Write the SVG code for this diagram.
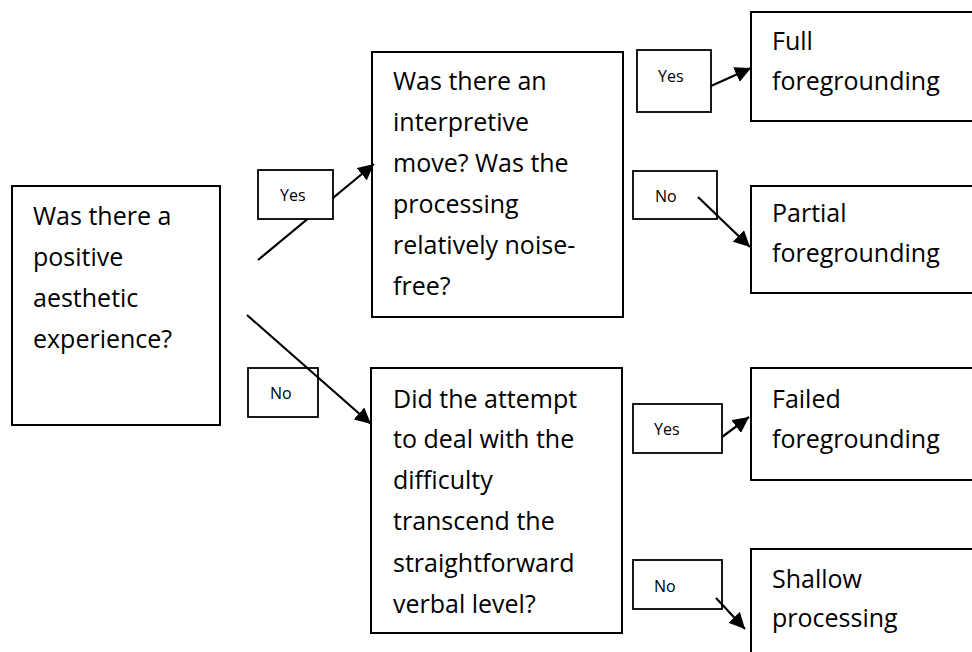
<svg xmlns="http://www.w3.org/2000/svg" width="972" height="652" viewBox="0 0 972 652">
  <defs>
    <marker id="arrow" markerUnits="userSpaceOnUse" markerWidth="18" markerHeight="16" refX="16" refY="8" orient="auto">
      <path d="M0,0 L16,8 L0,16 Z" fill="#000"/>
    </marker>
    <style>
      .box { fill: #fff; stroke: #000; stroke-width: 2; }
      .tag { fill: none; stroke: #000; stroke-width: 1.8; }
      .tag.solid { fill: #fff; }
      .big { font-family: "Open Sans", "Noto Sans", sans-serif; font-size: 25px; fill: #000; }
      .small { font-family: "Open Sans", "Noto Sans", sans-serif; font-size: 16px; fill: #000; }
      .link { stroke: #000; stroke-width: 2.2; fill: none; marker-end: url(#arrow); }
    </style>
  </defs>
  <rect width="972" height="652" fill="#fff"/>

  <!-- decision: aesthetic experience -->
  <g id="q-aesthetic">
    <rect class="box" x="12" y="186" width="208" height="239"/>
    <text class="big" x="33">
      <tspan x="33" y="225">Was there a</tspan>
      <tspan x="33" y="266">positive</tspan>
      <tspan x="33" y="307">aesthetic</tspan>
      <tspan x="33" y="348">experience?</tspan>
    </text>
  </g>

  <!-- decision: interpretive move -->
  <g id="q-interpretive">
    <rect class="box" x="372" y="52" width="251" height="265"/>
    <text class="big">
      <tspan x="393" y="90">Was there an</tspan>
      <tspan x="393" y="131">interpretive</tspan>
      <tspan x="393" y="172">move? Was the</tspan>
      <tspan x="393" y="213">processing</tspan>
      <tspan x="393" y="254">relatively noise-</tspan>
      <tspan x="393" y="295">free?</tspan>
    </text>
  </g>

  <!-- decision: dealing with difficulty -->
  <g id="q-difficulty">
    <rect class="box" x="371" y="368" width="251" height="265"/>
    <text class="big">
      <tspan x="393" y="408">Did the attempt</tspan>
      <tspan x="393" y="448">to deal with the</tspan>
      <tspan x="393" y="489">difficulty</tspan>
      <tspan x="393" y="530">transcend the</tspan>
      <tspan x="393" y="572">straightforward</tspan>
      <tspan x="393" y="613">verbal level?</tspan>
    </text>
  </g>

  <!-- outcomes -->
  <g id="o-full">
    <rect class="box" x="751" y="12" width="240" height="109"/>
    <text class="big"><tspan x="772" y="50">Full</tspan><tspan x="772" y="90">foregrounding</tspan></text>
  </g>
  <g id="o-partial">
    <rect class="box" x="751" y="186" width="240" height="107"/>
    <text class="big"><tspan x="772" y="222">Partial</tspan><tspan x="772" y="262">foregrounding</tspan></text>
  </g>
  <g id="o-failed">
    <rect class="box" x="751" y="368" width="240" height="112"/>
    <text class="big"><tspan x="772" y="408">Failed</tspan><tspan x="772" y="448">foregrounding</tspan></text>
  </g>
  <g id="o-shallow">
    <rect class="box" x="751" y="549" width="240" height="120"/>
    <text class="big"><tspan x="772" y="588">Shallow</tspan><tspan x="772" y="627">processing</tspan></text>
  </g>

  <!-- connectors -->
  <g id="connectors">
    <line class="link" x1="258" y1="260" x2="374" y2="164"/>
    <line class="link" x1="247" y1="315" x2="371" y2="424"/>
    <line class="link" x1="711" y1="86" x2="751" y2="68"/>
    <line class="link" x1="698" y1="197" x2="750" y2="247"/>
    <line class="link" x1="722" y1="437" x2="749" y2="417"/>
    <line class="link" x1="716" y1="598" x2="745" y2="629"/>
  </g>

  <!-- branch labels -->
  <g id="labels">
    <g id="l-yes-1">
      <rect class="tag solid" x="258" y="170" width="75" height="49"/>
      <text class="small" x="280" y="201">Yes</text>
    </g>
    <g id="l-no-1">
      <rect class="tag" x="248" y="368" width="70" height="49"/>
      <text class="small" x="270" y="399">No</text>
    </g>
    <g id="l-yes-2">
      <rect class="tag" x="637" y="50" width="74" height="62"/>
      <text class="small" x="658" y="82">Yes</text>
    </g>
    <g id="l-no-2">
      <rect class="tag" x="633" y="171" width="84" height="48"/>
      <text class="small" x="655" y="202">No</text>
    </g>
    <g id="l-yes-3">
      <rect class="tag" x="633" y="404" width="89" height="49"/>
      <text class="small" x="654" y="435">Yes</text>
    </g>
    <g id="l-no-3">
      <rect class="tag" x="633" y="560" width="89" height="49"/>
      <text class="small" x="654" y="592">No</text>
    </g>
  </g>
</svg>
